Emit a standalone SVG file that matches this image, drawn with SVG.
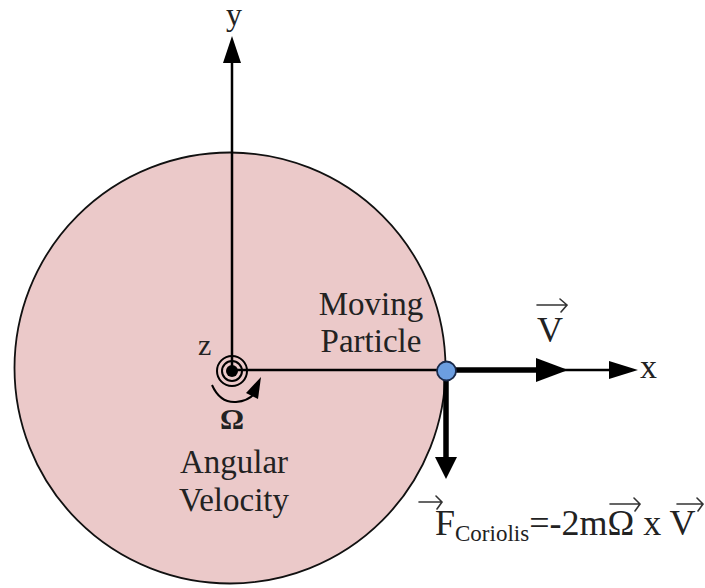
<svg xmlns="http://www.w3.org/2000/svg" width="705" height="588" viewBox="0 0 705 588">
<style>
.t{font-family:"Liberation Serif","Times New Roman","DejaVu Serif",serif;fill:#222}
.ax{stroke:#000;stroke-width:2.5;fill:none}
.thick{stroke:#000;stroke-width:5.5;fill:none}
.vec{stroke:#333;stroke-width:1.6;fill:none;stroke-linecap:round}
.head{fill:#000}
</style>
<rect width="705" height="588" fill="#fff"/>
<g id="disk">
<circle cx="230" cy="368" r="215.5" fill="#EBC9C9" stroke="#111" stroke-width="1.8"/>
</g>
<g id="connectors">
<line class="ax" x1="232" y1="371" x2="232" y2="58"/>
<polygon class="head" points="232,36 223,63 241,63"/>
<line class="ax" x1="232" y1="370" x2="614" y2="370"/>
<polygon class="head" points="638,370 609,361 609,379"/>
<line class="thick" x1="446" y1="370" x2="540" y2="370"/>
<polygon class="head" points="568,370 536,358 536,382"/>
<line class="thick" x1="446" y1="370" x2="446" y2="462"/>
<polygon class="head" points="446,479 435,457 457,457"/>
<path d="M212 385 Q220 403 236 402 Q248 401 254 394" stroke="#000" stroke-width="2" fill="none"/>
<polygon class="head" points="261,377 246,393 258,399"/>
</g>
<g id="origin">
<circle cx="232" cy="371" r="15" fill="none" stroke="#000" stroke-width="2"/>
<circle cx="232" cy="371" r="10" fill="none" stroke="#000" stroke-width="2"/>
<circle cx="232" cy="371" r="6" fill="#000"/>
</g>
<g id="particle">
<circle cx="446.5" cy="371" r="9.5" fill="#6C9EE0" stroke="#1a2a4a" stroke-width="1.8"/>
</g>
<g id="labels" font-family="Liberation Serif, Times New Roman, DejaVu Serif, serif">
<text class="t" x="234" y="25" font-size="32" text-anchor="middle">y</text>
<text class="t" x="640" y="378" font-size="34">x</text>
<text class="t" x="198" y="355" font-size="30">z</text>
<text class="t" x="232" y="429" font-size="30" font-weight="bold" text-anchor="middle">Ω</text>
<text class="t" x="371" y="315" font-size="33" text-anchor="middle">Moving</text>
<text class="t" x="371" y="352" font-size="33" text-anchor="middle">Particle</text>
<text class="t" x="234" y="473" font-size="33" text-anchor="middle">Angular</text>
<text class="t" x="234" y="511" font-size="33" text-anchor="middle">Velocity</text>
<text class="t" x="537" y="342" font-size="36">V</text>
<path class="vec" d="M537 305 H567 M560 299 L567 305 L561 312"/>
<text class="t" x="435" y="535" font-size="36">F<tspan font-size="23" dy="6">Coriolis</tspan><tspan dy="-6">=-2mΩ x V</tspan></text>
<path class="vec" d="M419 502 H442 M436 496 L442 502 L437 509"/>
<path class="vec" d="M610 504 H640 M634 498 L640 504 L635 511"/>
<path class="vec" d="M677 504 H703 M697 498 L703 504 L698 511"/>
</g>
</svg>
